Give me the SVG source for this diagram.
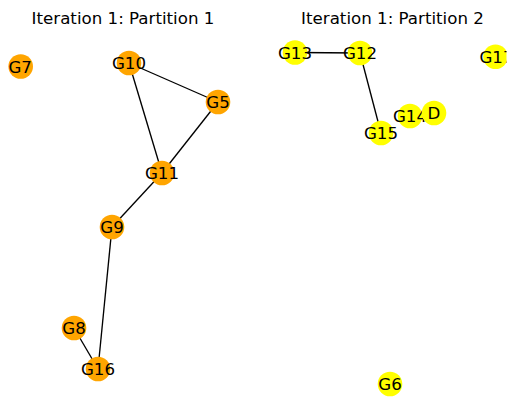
<svg xmlns="http://www.w3.org/2000/svg" width="515" height="411" viewBox="0 0 515 411">
<style>
text{font-family:"DejaVu Sans","Liberation Sans",sans-serif;fill:#000}
.t{font-size:16.67px;text-anchor:middle}
.l{font-size:16.67px;text-anchor:middle}
.o circle{fill:#FFA500}
.y circle{fill:#FFFF00}
.e line{stroke:#000;stroke-width:1.35}
</style>
<defs>
<clipPath id="ca"><rect x="8" y="30" width="230" height="381"/></clipPath>
<clipPath id="cb"><rect x="277" y="30" width="229.5" height="381"/></clipPath>
</defs>
<rect width="515" height="411" fill="#fff"/>
<text class="t" x="123" y="24">Iteration 1: Partition 1</text>
<text class="t" x="392.5" y="24">Iteration 1: Partition 2</text>
<g clip-path="url(#ca)">
<g id="edges1" class="e">
<line x1="129" y1="63" x2="218" y2="102"/>
<line x1="129" y1="63" x2="162" y2="173"/>
<line x1="218" y1="102" x2="162" y2="173"/>
<line x1="162" y1="173" x2="112" y2="227"/>
<line x1="112" y1="227" x2="98" y2="369"/>
<line x1="74" y1="328" x2="98" y2="369"/>
</g>
<g id="G7" class="o"><circle cx="20.7" cy="66.5" r="12.3"/><text class="l" x="20.2" y="72.5">G7</text></g>
<g id="G10" class="o"><circle cx="129" cy="63" r="12.3"/><text class="l" x="129" y="69">G10</text></g>
<g id="G5" class="o"><circle cx="218" cy="102" r="12.3"/><text class="l" x="218" y="108">G5</text></g>
<g id="G11" class="o"><circle cx="162" cy="173" r="12.3"/><text class="l" x="162" y="179">G11</text></g>
<g id="G9" class="o"><circle cx="112" cy="227" r="12.3"/><text class="l" x="112" y="233">G9</text></g>
<g id="G8" class="o"><circle cx="74" cy="328" r="12.3"/><text class="l" x="74" y="334">G8</text></g>
<g id="G16" class="o"><circle cx="98" cy="369" r="12.3"/><text class="l" x="98" y="375">G16</text></g>
</g>
<g clip-path="url(#cb)">
<g id="edges2" class="e">
<line x1="295" y1="52.5" x2="360" y2="53"/>
<line x1="360" y1="53" x2="381" y2="133"/>
</g>
<g id="G13" class="y"><circle cx="295" cy="52.5" r="12.3"/><text class="l" x="295" y="58.5">G13</text></g>
<g id="G12" class="y"><circle cx="360" cy="53" r="12.3"/><text class="l" x="360" y="59">G12</text></g>
<g id="G17" class="y"><circle cx="495.5" cy="56.7" r="12.3"/><text class="l" x="496.5" y="62.7">G17</text></g>
<g id="G14" class="y"><circle cx="410" cy="116" r="12.3"/><text class="l" x="410" y="122">G14</text></g>
<g id="D" class="y"><circle cx="434" cy="113" r="12.3"/><text class="l" x="434" y="119">D</text></g>
<g id="G15" class="y"><circle cx="381" cy="133" r="12.3"/><text class="l" x="381" y="139">G15</text></g>
<g id="G6" class="y"><circle cx="390" cy="384" r="12.3"/><text class="l" x="390" y="390">G6</text></g>
</g>
</svg>
